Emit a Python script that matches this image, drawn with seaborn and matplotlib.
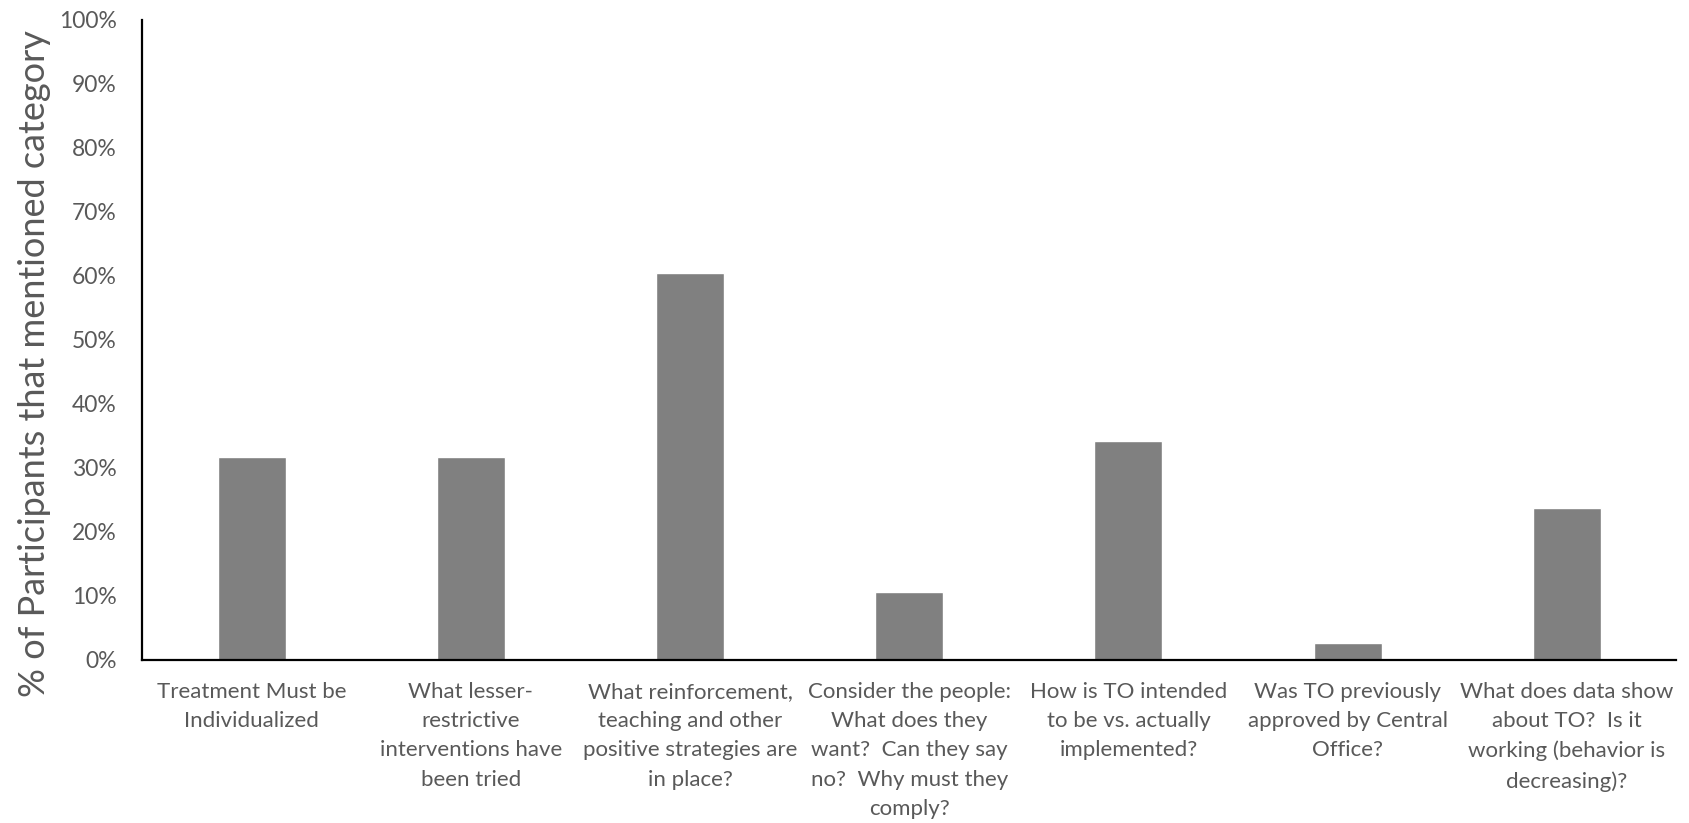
import matplotlib
matplotlib.use("Agg")
import matplotlib.pyplot as plt
import seaborn as sns
import pandas as pd
from matplotlib.ticker import PercentFormatter

categories = [
    "Treatment Must be\nIndividualized",
    "What lesser-\nrestrictive\ninterventions have\nbeen tried",
    "What reinforcement,\nteaching and other\npositive strategies are\nin place?",
    "Consider the people:\nWhat does they\nwant?  Can they say\nno?  Why must they\ncomply?",
    "How is TO intended\nto be vs. actually\nimplemented?",
    "Was TO previously\napproved by Central\nOffice?",
    "What does data show\nabout TO?  Is it\nworking (behavior is\ndecreasing)?",
]
percent_mentioned = [31.6, 31.6, 60.5, 10.5, 34.2, 2.6, 23.7]
y_ticks = [0, 10, 20, 30, 40, 50, 60, 70, 80, 90, 100]
y_label = "% of Participants that mentioned category"

sns.set_theme(style="white")
plt.rcParams["font.family"] = ["Lato", "DejaVu Sans"]

text_grey = "#595959"

df = pd.DataFrame({"category": categories, "pct": percent_mentioned})

fig = plt.figure(figsize=(16.9, 8.23), dpi=100)
ax = fig.add_axes([0.084, 0.1985, 0.908, 0.7775])

sns.barplot(data=df, x="category", y="pct", color="#808080", saturation=1,
            width=0.31, ax=ax, order=categories)

ax.set_ylim(0, 100)
ax.set_xlim(-0.5, len(categories) - 0.5)
ax.set_yticks(y_ticks)
ax.yaxis.set_major_formatter(PercentFormatter(decimals=0))

for side in ("top", "right"):
    ax.spines[side].set_visible(False)
for side in ("left", "bottom"):
    ax.spines[side].set_visible(True)
    ax.spines[side].set_color("black")
    ax.spines[side].set_linewidth(1.6)

ax.tick_params(axis="y", length=0, pad=18, labelsize=16.5, labelcolor=text_grey)
ax.tick_params(axis="x", length=0, pad=16, labelsize=16, labelcolor=text_grey)
for lbl in ax.get_xticklabels():
    lbl.set_linespacing(1.58)
    lbl.set_verticalalignment("top")

ax.set_xlabel("")
ax.set_ylabel(y_label, fontsize=26, color=text_grey)
ax.yaxis.set_label_coords(-0.059, 0.4625)

fig.savefig("out.png", dpi=100, facecolor="white")
